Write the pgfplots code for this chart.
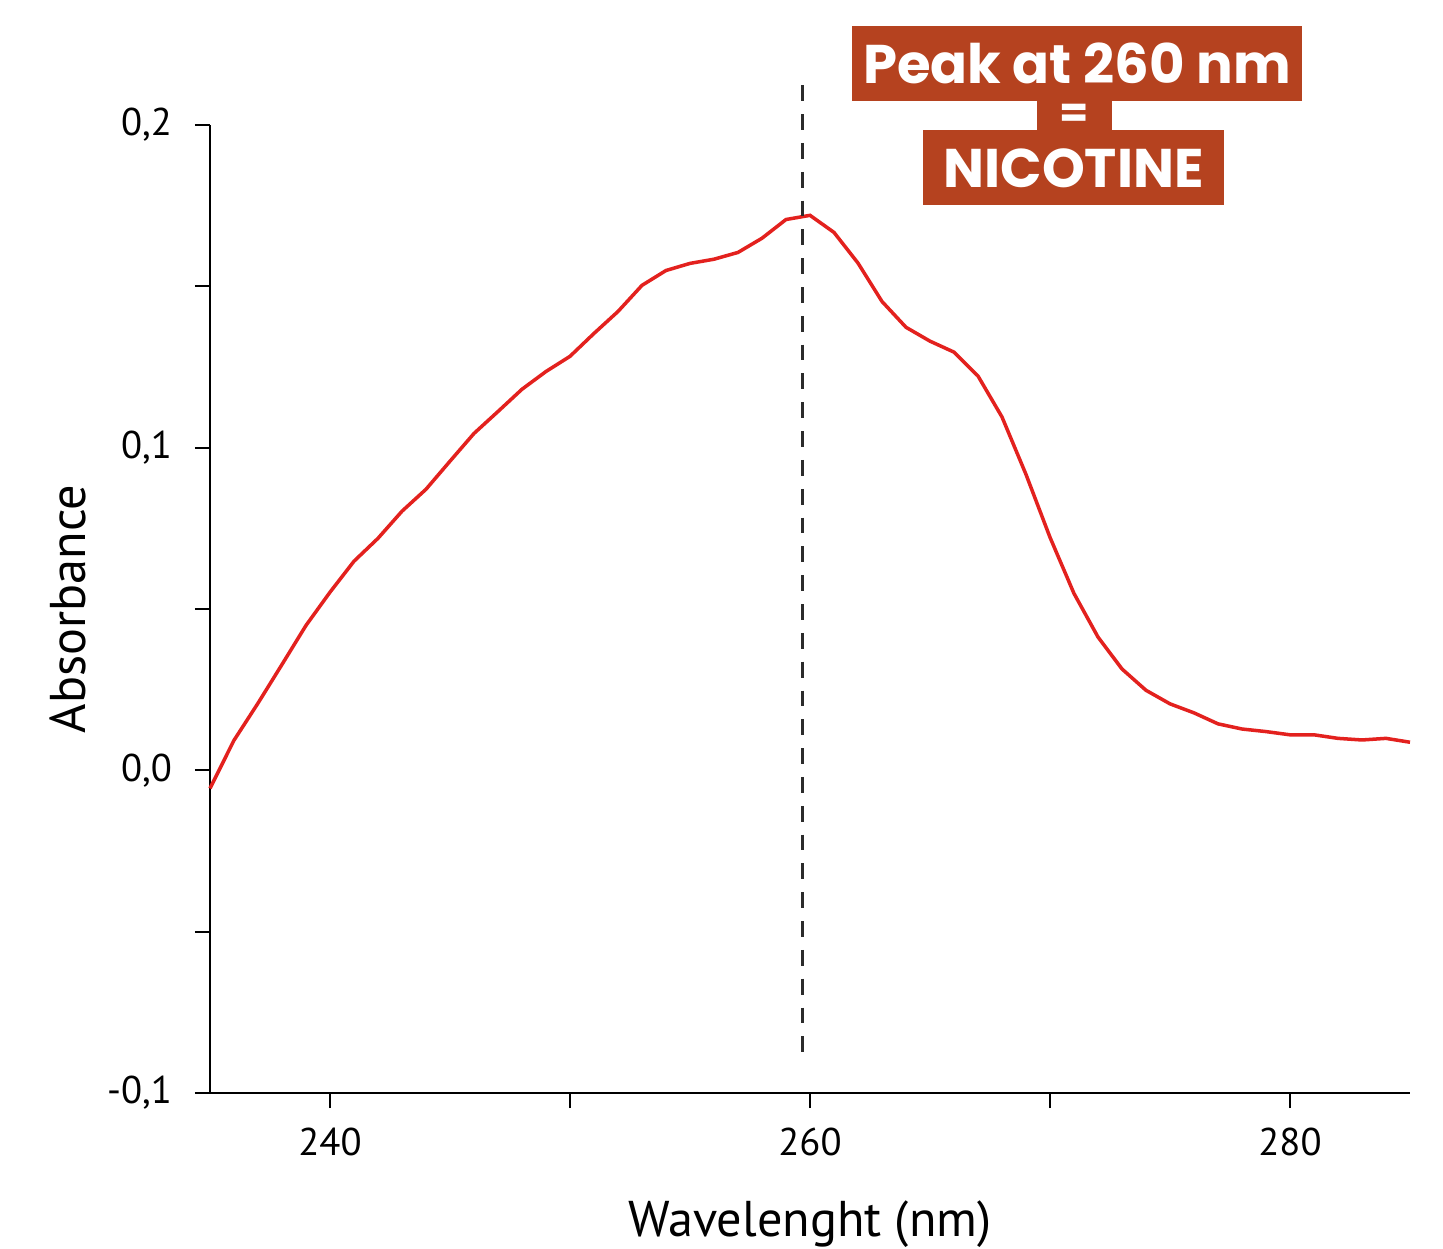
\documentclass[border=0pt]{standalone}
\usepackage{fontspec}
\setmainfont{PT Sans}
\newfontfamily\boxfont{Poppins}
\usepackage{pgfplots}
\pgfplotsset{compat=1.18}
\usetikzlibrary{calc}
\definecolor{spec}{HTML}{E3211E}
\definecolor{rust}{HTML}{B5421F}
\definecolor{peakline}{HTML}{2B2B2B}

\begin{document}
\begin{tikzpicture}
  \begin{axis}[
    scale only axis,
    width=12.0cm, height=9.68cm,
    xmin=235, xmax=285, ymin=-0.1, ymax=0.2,
    axis x line=bottom, axis y line=left,
    axis line style={-, line width=0.6pt},
    tick align=outside,
    major tick length=4.3pt, minor tick length=4.3pt,
    every tick/.style={black, line width=0.6pt},
    xtick={240,260,280}, minor xtick={250,270},
    xticklabels={240,260,280},
    ytick={-0.1,0,0.1,0.2}, minor ytick={-0.05,0.05,0.15},
    yticklabels={{-0,1},{0,0},{0,1},{0,2}},
    tick label style={font=\fontsize{11}{13}\selectfont},
    xticklabel style={yshift=-2pt},
    yticklabel style={xshift=-3pt},
    xlabel={Wavelenght (nm)}, ylabel={Absorbance},
    label style={font=\fontsize{14.3}{17}\selectfont},
    xlabel style={yshift=-6pt},
    ylabel style={yshift=-1pt},
    clip=false,
  ]
    % measured spectrum
    \addplot[spec, line width=1pt] coordinates {
      (235,-0.0056) (236,0.0093) (237,0.0208) (238,0.0328) (239,0.0449)
      (240,0.0552) (241,0.0648) (242,0.0719) (243,0.0803) (244,0.0871)
      (245,0.0958) (246,0.1044) (247,0.1112) (248,0.1181) (249,0.1236)
      (250,0.1283) (251,0.1354) (252,0.1422) (253,0.1503) (254,0.1549)
      (255,0.1571) (256,0.1584) (257,0.1605) (258,0.1649) (259,0.1707)
      (260,0.1720) (261,0.1667) (262,0.1572) (263,0.1453) (264,0.1373)
      (265,0.1330) (266,0.1296) (267,0.1222) (268,0.1095) (269,0.0917)
      (270,0.0722) (271,0.0548) (272,0.0413) (273,0.0314) (274,0.0248)
      (275,0.0206) (276,0.0178) (277,0.0144) (278,0.0128) (279,0.0120)
      (280,0.0110) (281,0.0110) (282,0.0099) (283,0.0094) (284,0.0099)
      (285,0.0087)};
    % peak marker
    \addplot[peakline, line width=0.8pt, dash pattern=on 4.5pt off 3.7pt]
      coordinates {(259.7,0.2123) (259.7,-0.0908)};
    % annotation
    \node[fill=rust, text=white, inner sep=0pt, minimum width=4.5cm, minimum height=0.75cm,
          font=\boxfont\bfseries\fontsize{15.5}{18}\selectfont]
      at (axis cs:271.125,0.2192) {Peak at 260 nm};
    \node[fill=rust, text=white, inner sep=0pt, minimum width=0.75cm, minimum height=0.31cm,
          font=\boxfont\bfseries\fontsize{12}{14}\selectfont]
      at (axis cs:271.0,0.2028) {=};
    \node[fill=rust, text=white, inner sep=0pt, minimum width=3.01cm, minimum height=0.75cm,
          font=\boxfont\bfseries\fontsize{15.5}{18}\selectfont]
      at (axis cs:270.98,0.1867) {NICOTINE};
  \end{axis}
  \pgfresetboundingbox
  \path ($(current axis.south west)+(-2.10cm,-1.56cm)$) rectangle ($(current axis.north east)+(0.33cm,1.25cm)$);
\end{tikzpicture}
\end{document}
